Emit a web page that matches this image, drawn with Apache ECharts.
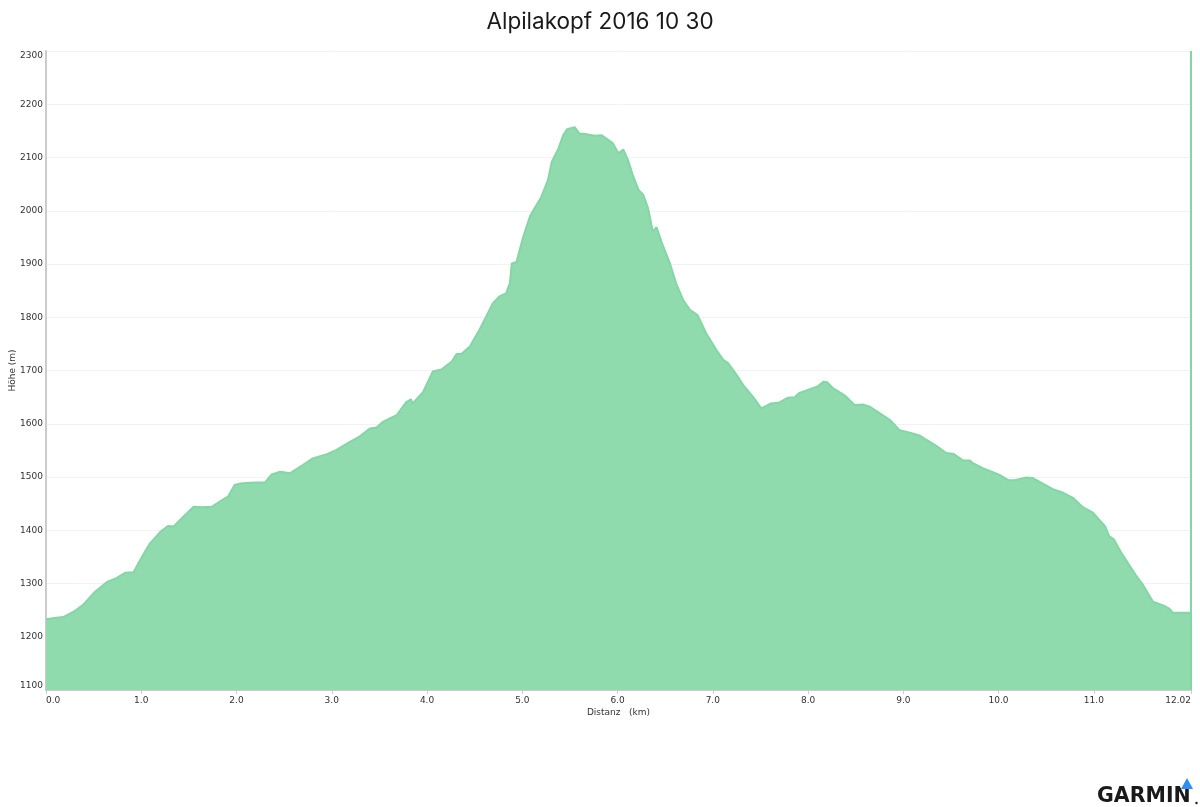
<!DOCTYPE html>
<html>
<head>
<meta charset="utf-8">
<script src="https://cdn.jsdelivr.net/npm/echarts@6/dist/echarts.min.js"></script>
<style>html,body{margin:0;padding:0;background:#fff}#chart{width:1200px;height:807px}</style>
</head>
<body>
<div id="chart"></div>
<script>
const title = 'Alpilakopf 2016 10 30';
const xAxisName = 'Distanz   (km)';
const yAxisName = 'Höhe (m)';
const xTickValues = [0, 1, 2, 3, 4, 5, 6, 7, 8, 9, 10, 11, 12.02];
const yTickValues = [1100, 1200, 1300, 1400, 1500, 1600, 1700, 1800, 1900, 2000, 2100, 2200, 2300];
const distKm = [0.00,0.09,0.18,0.29,0.39,0.50,0.64,0.74,0.83,0.92,0.97,1.02,1.09,1.20,1.28,1.34,1.41,1.55,1.65,1.74,1.86,1.91,1.98,2.04,2.14,2.30,2.37,2.46,2.56,2.70,2.80,2.95,3.05,3.19,3.29,3.40,3.47,3.54,3.68,3.78,3.83,3.85,3.96,4.06,4.15,4.26,4.31,4.36,4.45,4.52,4.55,4.69,4.76,4.83,4.87,4.89,4.94,5.01,5.08,5.13,5.20,5.27,5.31,5.38,5.43,5.47,5.55,5.60,5.66,5.76,5.83,5.88,5.95,6.01,6.06,6.11,6.16,6.22,6.27,6.32,6.37,6.41,6.46,6.55,6.62,6.69,6.76,6.84,6.93,7.04,7.11,7.16,7.25,7.33,7.42,7.51,7.61,7.70,7.79,7.86,7.91,8.02,8.10,8.16,8.20,8.26,8.35,8.40,8.49,8.58,8.65,8.75,8.86,8.96,9.07,9.17,9.24,9.35,9.45,9.53,9.63,9.70,9.73,9.84,9.94,10.01,10.10,10.17,10.29,10.36,10.46,10.57,10.67,10.78,10.88,10.99,11.06,11.12,11.16,11.21,11.28,11.36,11.44,11.51,11.58,11.62,11.74,11.79,11.83,11.90,12.02];
const elevM = [1233,1235,1237,1247,1260,1282,1303,1310,1320,1321,1338,1354,1375,1397,1408,1407,1420,1444,1443,1444,1458,1463,1485,1488,1489,1490,1505,1510,1507,1523,1535,1543,1551,1566,1576,1591,1593,1604,1616,1640,1646,1638,1660,1698,1702,1717,1731,1731,1745,1767,1776,1826,1839,1845,1864,1901,1904,1951,1989,2005,2026,2058,2092,2117,2142,2153,2157,2145,2144,2141,2142,2136,2127,2108,2115,2095,2067,2039,2030,2005,1961,1969,1942,1901,1861,1832,1814,1804,1770,1738,1720,1714,1692,1670,1651,1629,1638,1640,1649,1650,1658,1665,1670,1679,1678,1667,1657,1651,1635,1636,1632,1620,1607,1588,1583,1578,1570,1558,1545,1543,1531,1531,1526,1516,1509,1504,1494,1494,1499,1498,1488,1477,1471,1461,1444,1433,1419,1407,1389,1383,1360,1338,1316,1299,1278,1266,1258,1253,1245,1245,1245];

const xMax = xTickValues[xTickValues.length - 1];
const points = distKm.map((d, i) => [d, elevM[i]]);

const chart = echarts.init(document.getElementById('chart'), null, {renderer: 'canvas'});
chart.setOption({
  animation: false,
  backgroundColor: '#ffffff',
  title: {
    text: title, left: 'center', top: 6,
    textStyle: {fontFamily: 'Inter, sans-serif', fontSize: 22.5, fontWeight: 'normal', color: '#1a1a1a'}
  },
  grid: {left: 46, right: 9, top: 51, bottom: 117, containLabel: false, outerBoundsMode: 'none'},
  xAxis: {
    type: 'value', min: 0, max: xMax,
    name: xAxisName, nameLocation: 'middle', nameGap: 18, nameMoveOverlap: false,
    nameTextStyle: {fontFamily: 'DejaVu Sans, Verdana, sans-serif', fontSize: 9, color: '#333'},
    axisLine: {show: true, lineStyle: {color: '#cccccc', width: 2}},
    axisTick: {show: true, customValues: xTickValues, length: 4, lineStyle: {color: '#cccccc'}},
    axisLabel: {
      customValues: xTickValues, margin: 6,
      fontFamily: 'DejaVu Sans, Verdana, sans-serif', fontSize: 9, color: '#333',
      alignMinLabel: 'left', alignMaxLabel: 'right',
      formatter: v => (v === xMax ? String(xMax) : v.toFixed(1))
    },
    splitLine: {show: false}
  },
  yAxis: {
    type: 'value', min: yTickValues[0], max: yTickValues[yTickValues.length - 1], interval: 100,
    name: yAxisName, nameLocation: 'middle', nameGap: 29, nameRotate: 90, nameMoveOverlap: false,
    nameTextStyle: {fontFamily: 'DejaVu Sans, Verdana, sans-serif', fontSize: 9, color: '#333'},
    axisLine: {show: true, lineStyle: {color: '#cccccc', width: 2}},
    axisTick: {show: false},
    axisLabel: {
      margin: 3, fontFamily: 'DejaVu Sans, Verdana, sans-serif', fontSize: 9, color: '#333',
      verticalAlignMinLabel: 'bottom', verticalAlignMaxLabel: 'top',
      formatter: v => String(v)
    },
    splitLine: {show: true, lineStyle: {color: '#f2f2f2', width: 1}}
  },
  series: [{
    type: 'line',
    data: points,
    showSymbol: false,
    smooth: false,
    lineStyle: {color: '#84d6a5', width: 2},
    areaStyle: {color: '#8fdbae', opacity: 1, origin: 'start'},
    markLine: {
      silent: true, symbol: 'none', label: {show: false},
      lineStyle: {color: '#84d6a5', width: 2, type: 'solid'},
      data: [{xAxis: xMax}]
    },
    z: 2
  }],
  graphic: [
    {type: 'text', x: 1097, y: 807, style: {text: 'GARMIN', font: 'bold 20.5px "DejaVu Sans", sans-serif', fill: '#1a1a1a', verticalAlign: 'bottom', align: 'left'}},
    {type: 'polygon', shape: {points: [[1181, 789], [1193, 789], [1187, 778]]}, style: {fill: '#2b8ef5'}},
    {type: 'circle', shape: {cx: 1196.5, cy: 803, r: 1.2}, style: {fill: '#1a1a1a'}}
  ]
});
</script>
</body>
</html>
